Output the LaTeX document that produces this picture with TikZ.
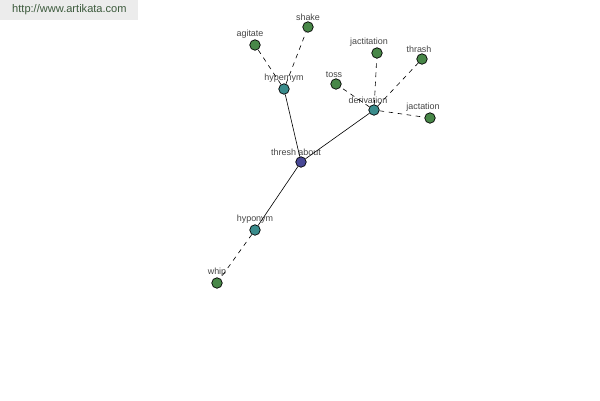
\documentclass[tikz,border=0pt]{standalone}
\usepackage{fontspec}
\setmainfont{Liberation Sans}
\usetikzlibrary{positioning}
\definecolor{rootblue}{RGB}{72,72,150}
\definecolor{relteal}{RGB}{58,140,140}
\definecolor{leafgreen}{RGB}{72,135,72}
\definecolor{lblgray}{RGB}{70,70,70}
\definecolor{urlgreen}{RGB}{60,90,60}

\begin{document}
\begin{tikzpicture}[x=0.02cm,y=-0.02cm]
            \tikzset{
                word/.style={
                    circle,
                    draw=black,
                    inner sep=0pt,
                    minimum size=0.21cm
                },
                lbl/.style={
                    text=lblgray,
                    font=\fontsize{5.1}{6}\selectfont,
                    inner sep=0.5pt
                },
                rel/.style={draw=black, line width=0.35pt},
                leaf/.style={draw=black, line width=0.35pt, dash pattern=on 2.6pt off 2.6pt}
            }
            \useasboundingbox (0,0) rectangle (600,400);

            % Site banner
            \fill[gray!15] (0,0) rectangle (138,20);
            \node[text=urlgreen,font=\fontsize{6.3}{7}\selectfont,anchor=west] (url) at (6,10) {http://www.artikata.com};

            % Centre word
            \node[word,fill=rootblue,label={[lbl,xshift=-0.1cm]above:thresh about}] (thresh) at (301,162) {};

            % Relations
            \node[word,fill=relteal,label={[lbl]above:hypernym}] (hypernym) at (284,89) {};
            \node[word,fill=relteal,label={[lbl,xshift=-0.12cm]above:derivation}] (derivation) at (374,110) {};
            \node[word,fill=relteal,label={[lbl]above:hyponym}] (hyponym) at (255,230) {};

            % Leaves
            \node[word,fill=leafgreen,label={[lbl,xshift=-0.1cm]above:agitate}] (agitate) at (255,45) {};
            \node[word,fill=leafgreen,label={[lbl]above:shake}] (shake) at (308,27) {};
            \node[word,fill=leafgreen,label={[lbl,xshift=-0.04cm]above:toss}] (toss) at (336,84) {};
            \node[word,fill=leafgreen,label={[lbl,xshift=-0.16cm]above:jactitation}] (jactitation) at (377,53) {};
            \node[word,fill=leafgreen,label={[lbl,xshift=-0.06cm]above:thrash}] (thrash) at (422,59) {};
            \node[word,fill=leafgreen,label={[lbl,xshift=-0.14cm]above:jactation}] (jactation) at (430,118) {};
            \node[word,fill=leafgreen,label={[lbl]above:whip}] (whip) at (217,283) {};

            % Connections
            \draw[rel] (thresh) -- (hypernym);
            \draw[rel] (thresh) -- (derivation);
            \draw[rel] (thresh) -- (hyponym);

            \draw[leaf] (hypernym) -- (agitate);
            \draw[leaf] (hypernym) -- (shake);
            \draw[leaf] (derivation) -- (toss);
            \draw[leaf] (derivation) -- (jactitation);
            \draw[leaf] (derivation) -- (thrash);
            \draw[leaf] (derivation) -- (jactation);
            \draw[leaf] (hyponym) -- (whip);
        \end{tikzpicture}
\end{document}
